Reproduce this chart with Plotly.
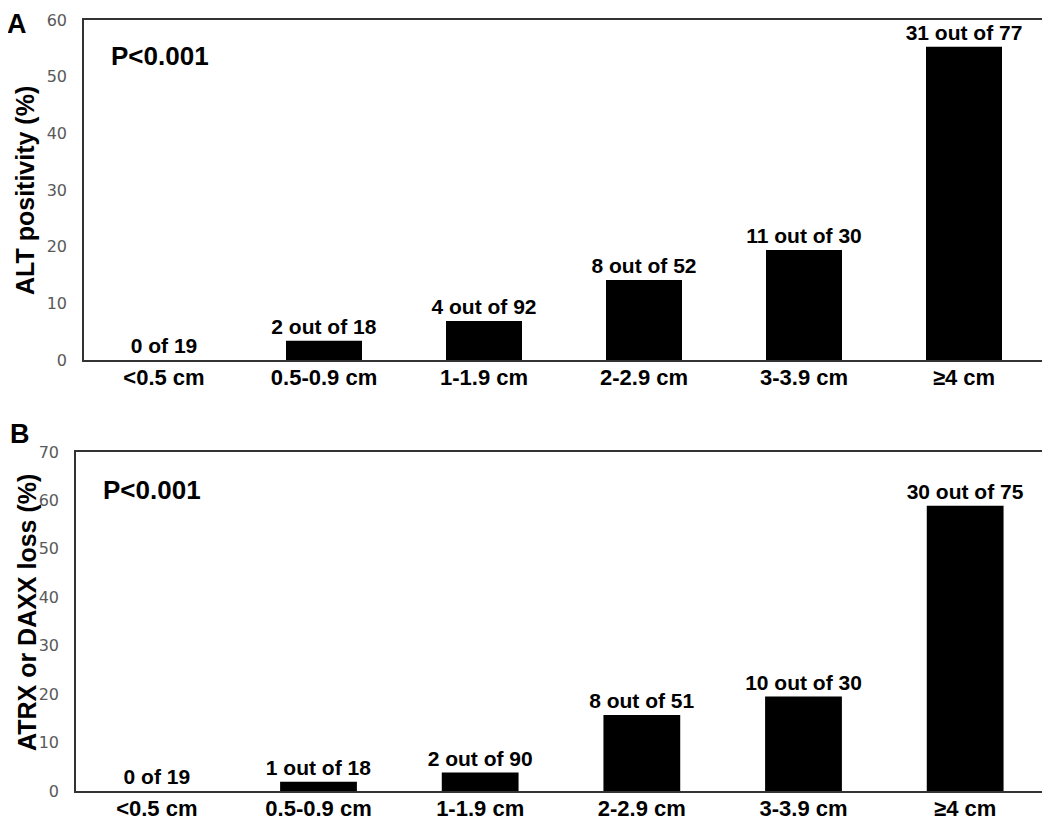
import plotly.graph_objects as go
from plotly.subplots import make_subplots

sizes = ['<0.5 cm', '0.5-0.9 cm', '1-1.9 cm', '2-2.9 cm', '3-3.9 cm', '≥4 cm']

# panel A: ALT positivity (%)
alt_pct = [0, 3.4, 6.9, 14.1, 19.4, 55.3]
alt_labels = ['0 of 19', '2 out of 18', '4 out of 92', '8 out of 52', '11 out of 30', '31 out of 77']

# panel B: ATRX or DAXX loss (%)
loss_pct = [0, 1.9, 3.8, 15.7, 19.5, 58.9]
loss_labels = ['0 of 19', '1 out of 18', '2 out of 90', '8 out of 51', '10 out of 30', '30 out of 75']

# the page body has an 8px margin, so the figure is drawn 8px in from the corner
OFF = 8
W, H = 1050 - OFF, 821 - OFF
FONT = 'Liberation Sans'


def px(sx):
    return (sx - OFF) / W


def py(sy):
    return 1 - (sy - OFF) / H


fig = make_subplots(rows=2, cols=1)

for row, vals, labels in [(1, alt_pct, alt_labels), (2, loss_pct, loss_labels)]:
    fig.add_trace(go.Bar(x=sizes, y=vals, text=labels, texttemplate='<b>%{text}</b>',
                         textposition='outside',
                         marker=dict(color='black', line=dict(width=0)),
                         textfont=dict(family=FONT, size=21, color='black'),
                         constraintext='none', cliponaxis=False), row=row, col=1)

axis_common = dict(showline=True, mirror=True, linecolor='#333333', linewidth=1.5,
                   showgrid=False, zeroline=False, ticks='', automargin=False)

fig.update_xaxes(**axis_common, tickfont=dict(family=FONT, size=22, color='black'),
                 tickmode='array', tickvals=sizes, ticktext=['<b>%s</b>' % s for s in sizes],
                 ticklabelstandoff=-3)
fig.update_yaxes(**axis_common, tickfont=dict(family='DejaVu Sans', size=16, color='#595959'),
                 ticklabelstandoff=12, dtick=10)

# plot areas, from screen pixels
fig.update_layout(
    xaxis=dict(domain=[px(84), px(1044)]),
    yaxis=dict(domain=[py(360), py(20)], range=[0, 60]),
    xaxis2=dict(domain=[px(76), px(1046)]),
    yaxis2=dict(domain=[py(791), py(452)], range=[0, 70]),
)

bold = dict(family=FONT, color='black')
notes = [
    dict(text='<b>A</b>', x=17, y=24, size=27, angle=0),
    dict(text='<b>B</b>', x=20, y=434, size=27, angle=0),
    dict(text='<b>P<0.001</b>', x=160, y=56, size=26, angle=0),
    dict(text='<b>P<0.001</b>', x=152, y=490, size=26, angle=0),
    dict(text='<b>ALT positivity (%)</b>', x=25, y=191, size=25, angle=-90),
    dict(text='<b>ATRX or DAXX loss (%)</b>', x=27, y=613, size=25, angle=-90),
]
for n in notes:
    fig.add_annotation(text=n['text'], x=px(n['x']), y=py(n['y']), xref='paper', yref='paper',
                       xanchor='center', yanchor='middle', showarrow=False,
                       textangle=n['angle'], font=dict(size=n['size'], **bold))

fig.update_layout(width=W, height=H, margin=dict(l=0, r=0, t=0, b=0),
                  bargap=0.525, showlegend=False, plot_bgcolor='white',
                  paper_bgcolor='white', font=dict(family=FONT))

fig.write_html("out.html")
